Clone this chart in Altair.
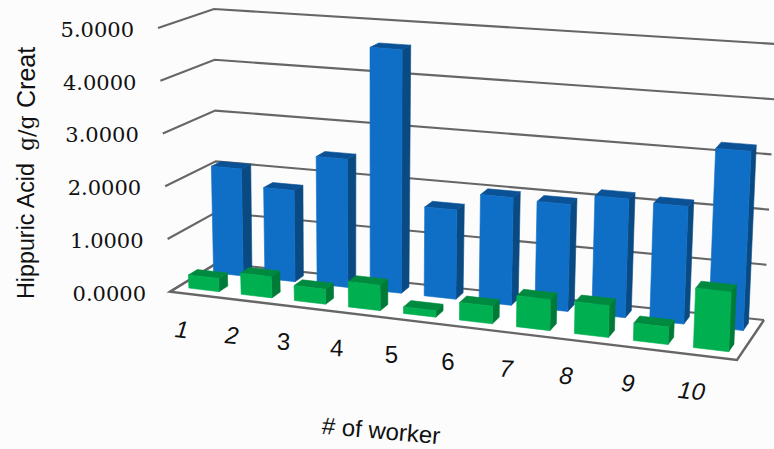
import altair as alt
import pandas as pd

# Measured hippuric acid per worker (g/g creatinine), two sampling series
workers = ["1", "2", "3", "4", "5", "6", "7", "8", "9", "10"]
back_series = [2.07, 1.75, 2.44, 4.60, 1.67, 2.00, 1.97, 2.17, 2.13, 3.22]
front_series = [0.25, 0.40, 0.28, 0.47, 0.12, 0.32, 0.56, 0.57, 0.31, 1.05]
axis_values = [0, 1, 2, 3, 4, 5]
axis_labels = ["0.0000", "1.0000", "2.0000", "3.0000", "4.0000", "5.0000"]
label_angles = [6, 5, 3, 2, 0, 0, 3, 4, 5, 6]
label_styles = ["italic", "italic", "normal", "normal", "normal", "normal",
                "italic", "italic", "italic", "italic"]

W, H = 774, 449
GRID = "#666666"
BACK_COLORS = ("#0f6fc6", "#0a4a82", "#0a5196")
FRONT_COLORS = ("#00b050", "#007a37", "#008a40")

# Corners of the 3D box as seen by the camera: (floor point, point at value 5)
FL = ((170, 291.7), (158, 28))
BL = ((217, 263), (214, 9))
BR = ((764, 320), (776.5, 44))
FR = ((737, 360), (749.5, 74))
PERSPECTIVE = 1.09
LABEL_PERSPECTIVE = 1.16
VMAX = 5.0


def lerp(a, b, t):
    return (a[0] + (b[0] - a[0]) * t, a[1] + (b[1] - a[1]) * t)


def project(u, depth, value, persp=PERSPECTIVE):
    """Map (position along the category axis 0-1, depth 0-1, value) to the screen."""
    s = u / (u + (1 - u) * persp)
    t = value / VMAX
    front = lerp(lerp(FL[0], FL[1], t), lerp(FR[0], FR[1], t), s)
    back = lerp(lerp(BL[0], BL[1], t), lerp(BR[0], BR[1], t), s)
    return lerp(front, back, depth)


def polygons(series, d0, d1, half=0.029):
    front, side, top = [], [], []
    for i, v in enumerate(series):
        u0 = (i + 0.5) / len(series) - half
        u1 = (i + 0.5) / len(series) + half
        faces = {
            "front": [(u0, d0, 0), (u1, d0, 0), (u1, d0, v), (u0, d0, v)],
            "side": [(u1, d0, 0), (u1, d1, 0), (u1, d1, v), (u1, d0, v)],
            "top": [(u0, d0, v), (u1, d0, v), (u1, d1, v), (u0, d1, v)],
        }
        for name, out in (("front", front), ("side", side), ("top", top)):
            for k, p in enumerate(faces[name]):
                x, y = project(*p)
                out.append({"x": x, "y": y, "bar": i, "k": k})
    return pd.DataFrame(front), pd.DataFrame(side), pd.DataFrame(top)


X = alt.X("x:Q", scale=alt.Scale(domain=[0, W], range=[0, W]), axis=None)
Y = alt.Y("y:Q", scale=alt.Scale(domain=[0, H], range=[0, H]), axis=None)


def shape(df, color, stroke=None):
    return alt.Chart(df).mark_line(
        fill=color, stroke=stroke or color, strokeWidth=0.6,
        interpolate="linear-closed", clip=False,
    ).encode(x=X, y=Y, detail="bar:N", order="k:Q")


def text_layer(df, **mark):
    return alt.Chart(df).mark_text(**mark).encode(
        x=X, y=Y, text="t:N", angle=alt.Angle("a:Q", scale=None)
    )


# Floor panel
floor_pts = [FL[0], FR[0], BR[0], BL[0]]
floor = pd.DataFrame([{"x": p[0], "y": p[1], "bar": 0, "k": k} for k, p in enumerate(floor_pts)])
floor_front = pd.DataFrame([{"x": p[0], "y": p[1], "bar": 0, "k": k} for k, p in enumerate([BL[0], FL[0], FR[0], BR[0]])])

# Gridlines run along the left wall and then across the back wall
grid_rows = []
for v in axis_values:
    for k, p in enumerate([project(0, 0, v), project(0, 1, v), project(1, 1, v)]):
        grid_rows.append({"x": p[0], "y": p[1], "bar": v, "k": k})
grid = pd.DataFrame(grid_rows)
lines = alt.Chart(grid).mark_line(color=GRID, strokeWidth=2.1).encode(x=X, y=Y, detail="bar:N", order="k:Q")
floor_line = alt.Chart(floor_front).mark_line(color=GRID, strokeWidth=2.4, interpolate="linear").encode(
    x=X, y=Y, detail="bar:N", order="k:Q")
floor_fill = shape(floor, "#ffffff", "#ffffff")

layers = [floor_fill, lines, floor_line]
for series, d0, d1, colors in (
    (back_series, 0.70, 0.89, BACK_COLORS),
    (front_series, 0.17, 0.36, FRONT_COLORS),
):
    f, s, t = polygons(series, d0, d1)
    layers += [shape(s, colors[1]), shape(t, colors[2]), shape(f, colors[0])]

# Value labels beside the left wall
val_rows = []
for v, lab in zip(axis_values, axis_labels):
    x, y = project(0, 0, v)
    val_rows.append({"x": x - 24, "y": y + 3, "t": lab, "a": 0})
layers.append(text_layer(pd.DataFrame(val_rows), align="right", baseline="middle",
                         font="DejaVu Serif", fontSize=21, color="#111111"))

# Worker numbers follow the front edge of the floor
for style in ("normal", "italic"):
    rows = []
    for i, lab in enumerate(workers):
        if label_styles[i] != style:
            continue
        x, y = project((i + 0.5) / len(workers), 0, 0, LABEL_PERSPECTIVE)
        rows.append({"x": x - 13, "y": y + 36, "t": lab, "a": label_angles[i]})
    layers.append(text_layer(pd.DataFrame(rows), align="center", baseline="middle",
                             font="Liberation Sans", fontSize=24, fontStyle=style, color="#111111"))

# Axis titles
layers.append(text_layer(pd.DataFrame([{"x": 381, "y": 432, "t": "# of worker", "a": 5}]),
                         align="center", baseline="middle", font="Liberation Sans",
                         fontSize=24, color="#111111"))
for font, size, pos, label in (
    ("Liberation Sans", 23.3, 299, "Hippuric Acid"),
    ("DejaVu Serif", 22, 151, "g/g"),
    ("Liberation Sans", 25, 108, "Creat"),
):
    layers.append(text_layer(pd.DataFrame([{"x": 27, "y": pos, "t": label, "a": 270}]),
                             align="left", baseline="middle", font=font, fontSize=size, color="#111111"))

chart = alt.layer(*layers).properties(
    width=W, height=H, padding=0, autosize=alt.AutoSizeParams(type="none"),
    background="#fcfcfc",
).configure_view(stroke=None)

chart.save("out.html", embed_options={"renderer": "svg", "actions": False})
